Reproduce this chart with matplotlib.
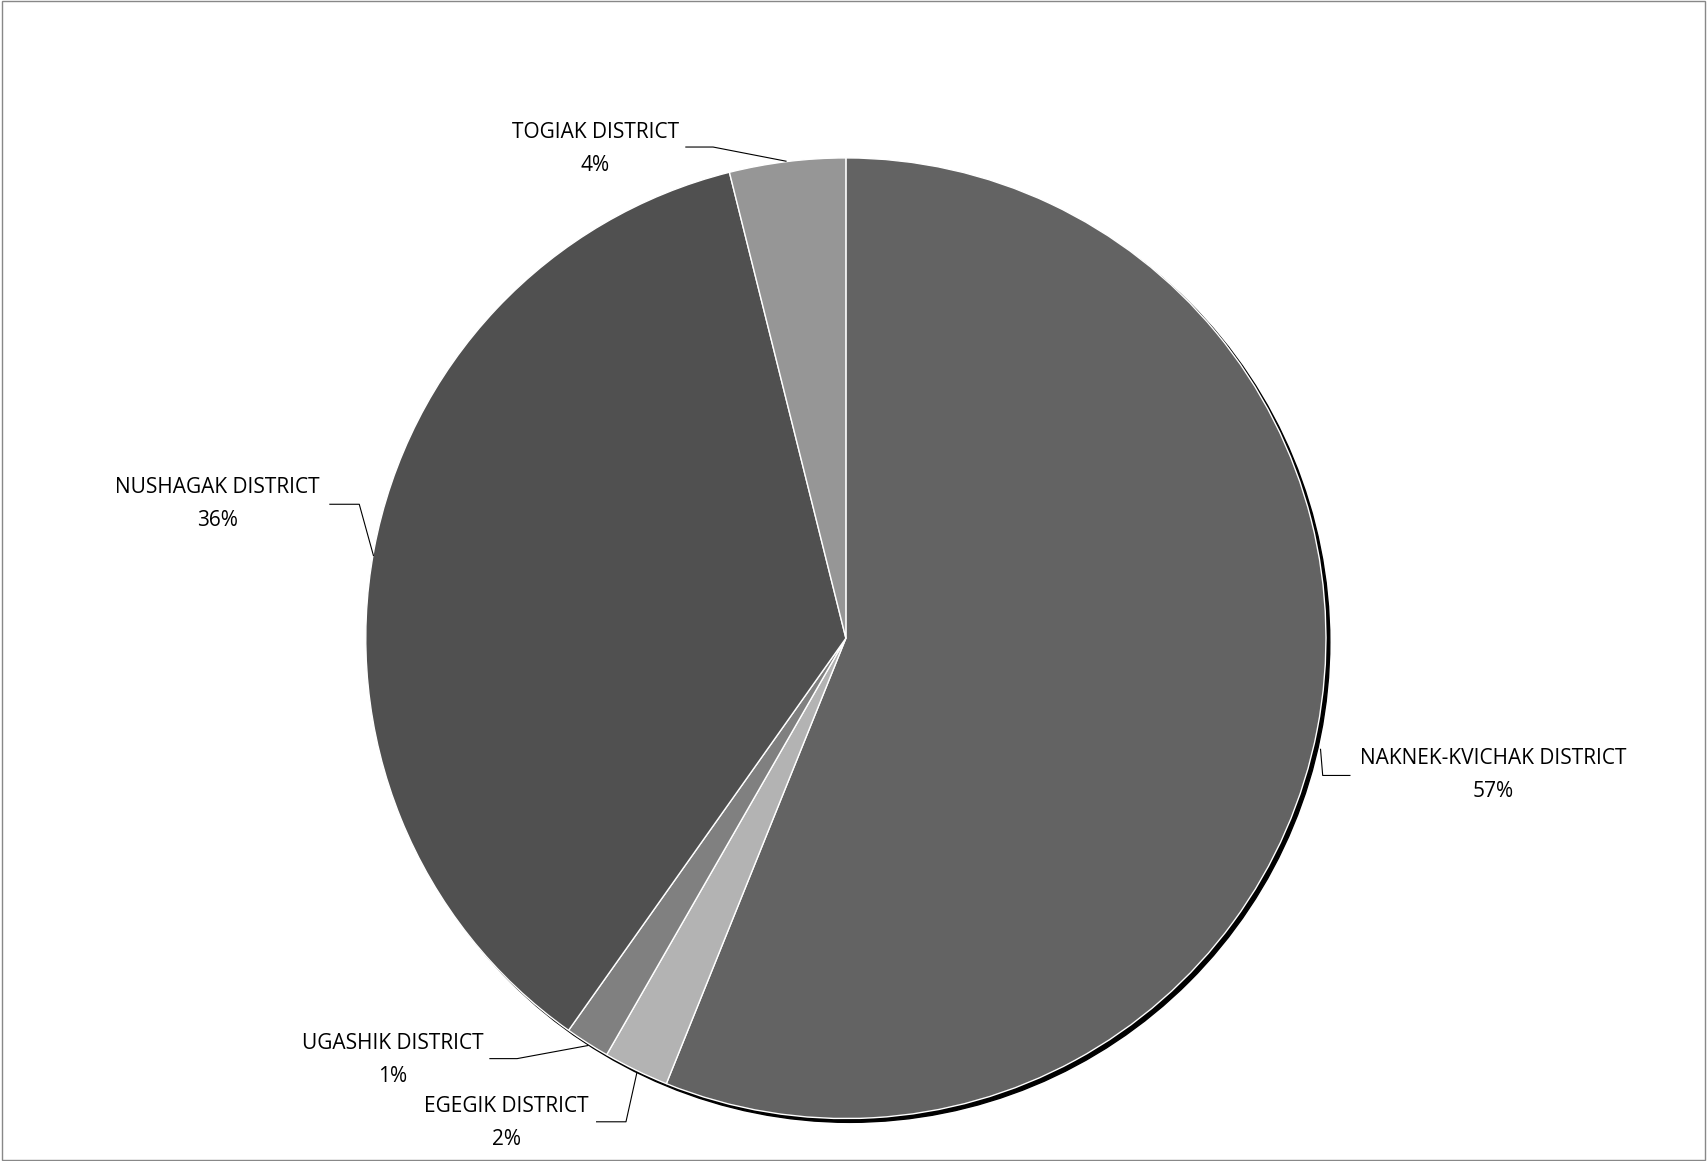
import matplotlib.pyplot as plt
from matplotlib.patches import Circle, Rectangle

labels = ["NAKNEK-KVICHAK DISTRICT", "EGEGIK DISTRICT", "UGASHIK DISTRICT",
          "NUSHAGAK DISTRICT", "TOGIAK DISTRICT"]
values = [56.1, 2.2, 1.5, 36.3, 3.9]
pct_text = ["57%", "2%", "1%", "36%", "4%"]
colors = ["#636363", "#b3b3b3", "#808080", "#505050", "#969696"]

# label centres and leader lines in reference pixel coords (1568x1066 view)
text_px = [(1372, 712), (465, 1031), (361, 973), (200, 463), (547, 137)]
leader_px = [
    [(1240, 712), (1215, 712), (1213, 688)],
    [(548, 1030), (575, 1030), (585, 985)],
    [(450, 972), (475, 972), (540, 960)],
    [(303, 463), (330, 463), (343, 510)],
    [(630, 135), (655, 135), (722, 148)],
]

CX, CY, R = 777, 586, 441


def to_data(p):
    return ((p[0] - CX) / R, (CY - p[1]) / R)


fig = plt.figure(figsize=(17.07, 11.61), dpi=100)
ax = fig.add_axes([0, 0, 1, 1])

# shadow
ax.add_patch(Circle((0.008, -0.008), 1.0, color="black", zorder=1))
ax.pie(values, colors=colors, startangle=90, counterclock=False, radius=1.0,
       wedgeprops=dict(edgecolor="white", linewidth=1), frame=True)
ax.set_xlim(-CX / R, (1568 - CX) / R)
ax.set_ylim(-(1066 - CY) / R, CY / R)
ax.set_aspect("auto")
ax.axis("off")

for lab, pct, tp, lp in zip(labels, pct_text, text_px, leader_px):
    x, y = to_data(tp)
    ax.text(x, y, lab + "\n" + pct, ha="center", va="center", fontsize=15,
            family="Open Sans", linespacing=1.75, color="black")
    pts = [to_data(p) for p in lp]
    ax.plot([p[0] for p in pts], [p[1] for p in pts], color="black", lw=0.8)

fig.patches.append(Rectangle((0.001, 0.001), 0.998, 0.998, transform=fig.transFigure,
                             fill=False, edgecolor="#888888", lw=1))
fig.savefig("out.png", dpi=100)
